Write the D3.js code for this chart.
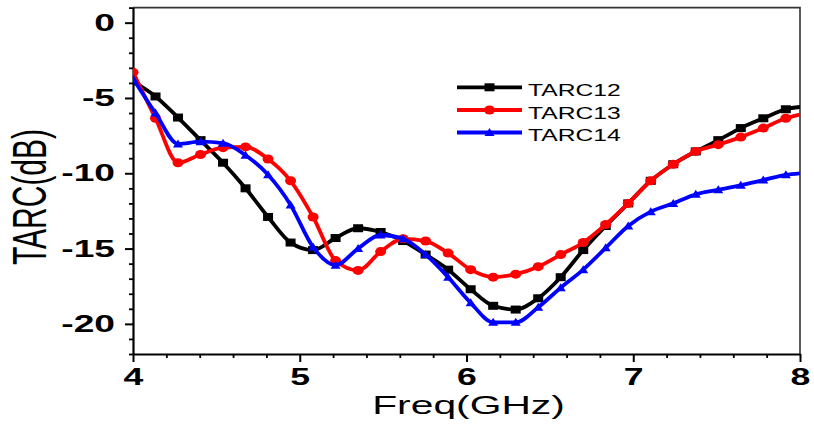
<!DOCTYPE html>
<html>
<head>
<meta charset="utf-8">
<script src="https://cdn.jsdelivr.net/npm/d3@7"></script>
<style>
  html, body { margin: 0; padding: 0; background: #fff; }
  svg { display: block; }
  text { font-family: "Liberation Sans", Arial, sans-serif; fill: #000; }
</style>
</head>
<body>
<svg id="chart" width="814" height="426"></svg>
<script>
// Frequency sample points (GHz)
const freq = [4.000, 4.135, 4.270, 4.405, 4.540, 4.675, 4.810, 4.945, 5.080, 5.215,
              5.350, 5.485, 5.620, 5.755, 5.890, 6.025, 6.160, 6.295, 6.430, 6.565,
              6.700, 6.835, 6.970, 7.105, 7.240, 7.375, 7.510, 7.645, 7.780, 7.915, 8.000];

// TARC (dB) for each port combination
const tarc12 = [-3.9, -4.9, -6.3, -7.8, -9.3, -11.0, -12.9, -14.6, -15.1, -14.3,
                -13.65, -13.9, -14.5, -15.4, -16.4, -17.7, -18.8, -19.05, -18.3, -16.9,
                -15.1, -13.5, -12.0, -10.5, -9.4, -8.55, -7.8, -7.0, -6.35, -5.75, -5.6];
const tarc13 = [-3.3, -6.35, -9.3, -8.75, -8.3, -8.25, -9.05, -10.5, -12.9, -15.8,
                -16.45, -15.2, -14.35, -14.5, -15.3, -16.4, -16.9, -16.7, -16.2, -15.4,
                -14.6, -13.4, -12.0, -10.5, -9.4, -8.55, -8.1, -7.6, -7.0, -6.35, -6.1];
const tarc14 = [-3.7, -6.0, -8.05, -7.9, -8.0, -8.8, -10.1, -12.1, -14.9, -16.1,
                -15.0, -14.1, -14.35, -15.4, -16.9, -18.6, -19.9, -19.9, -18.9, -17.6,
                -16.4, -14.95, -13.5, -12.55, -12.0, -11.4, -11.1, -10.8, -10.45, -10.1, -10.0];

const seriesNames = ["TARC12", "TARC13", "TARC14"];
const seriesColors = ["#000000", "#ff0000", "#0000ff"];
const seriesShapes = ["square", "circle", "triangle"];

const xTicks = [4, 5, 6, 7, 8];
const yTicks = [0, -5, -10, -15, -20];
const xMinorTicks = [4.2, 4.4, 4.6, 4.8, 5.2, 5.4, 5.6, 5.8, 6.2, 6.4, 6.6, 6.8, 7.2, 7.4, 7.6, 7.8];
const yMinorTicks = [1, -1, -2, -3, -4, -6, -7, -8, -9, -11, -12, -13, -14, -16, -17, -18, -19, -21, -22];

const xTitle = "Freq(GHz)";
const yTitle = "TARC(dB)";

// Text is drawn horizontally widened
const SX = 1.55;

const svg = d3.select("#chart");
const plot = { left: 133, right: 800, top: 7.6, bottom: 354 };

const x = d3.scaleLinear().domain([4, 8]).range([plot.left, plot.right]);
const y = d3.scaleLinear().domain([-22, 1]).range([plot.bottom, plot.top]);

// Frame (top and right edges)
svg.append("path")
  .attr("d", `M${plot.left},${plot.top}H${plot.right}V${plot.bottom}`)
  .attr("fill", "none").attr("stroke", "#333").attr("stroke-width", 1.6);

// Minor ticks
svg.append("g").attr("transform", `translate(0,${plot.bottom})`)
  .call(d3.axisBottom(x).tickValues(xMinorTicks).tickSize(4).tickSizeOuter(0).tickFormat(""))
  .call(g => g.select(".domain").remove())
  .call(g => g.selectAll("line").attr("stroke-width", 1.8));
svg.append("g").attr("transform", `translate(${plot.left},0)`)
  .call(d3.axisLeft(y).tickValues(yMinorTicks).tickSize(4).tickSizeOuter(0).tickFormat(""))
  .call(g => g.select(".domain").remove())
  .call(g => g.selectAll("line").attr("stroke-width", 1.8));

// Major axes
const xAxis = svg.append("g").attr("transform", `translate(0,${plot.bottom})`)
  .call(d3.axisBottom(x).tickValues(xTicks).tickSize(8).tickSizeOuter(0).tickPadding(7).tickFormat(d3.format("d")));
const yAxis = svg.append("g").attr("transform", `translate(${plot.left},0)`)
  .call(d3.axisLeft(y).tickValues(yTicks).tickSize(8).tickSizeOuter(0).tickPadding(10).tickFormat(d => d === 0 ? "0" : "-" + Math.abs(d)));

[xAxis, yAxis].forEach(g => {
  g.select(".domain").attr("stroke-width", 2.2);
  g.selectAll(".tick line").attr("stroke-width", 2);
  g.selectAll("text")
    .style("font-family", '"Liberation Sans", Arial, sans-serif')
    .style("font-size", "24px").style("font-weight", "bold").attr("fill", "#000");
});
xAxis.selectAll("text").style("font-size", "23px").attr("transform", `scale(${SX},1)`);
yAxis.selectAll("text").attr("x", -18 / SX).attr("transform", `scale(${SX},1)`);

// Axis titles
svg.append("text")
  .attr("transform", `translate(${(plot.left + plot.right) / 2 + 2},414) scale(1.6,1)`)
  .attr("text-anchor", "middle").style("font-size", "25.5px").text(xTitle);
svg.append("text")
  .attr("transform", `translate(46,197) rotate(-90) scale(1,1.6)`)
  .attr("text-anchor", "middle").style("font-size", "30px").text(yTitle);

// Marker drawing
function drawMarker(sel, shape, color) {
  if (shape === "square") {
    sel.append("rect").attr("x", -5).attr("y", -4).attr("width", 10).attr("height", 8).attr("fill", color);
  } else if (shape === "circle") {
    sel.append("ellipse").attr("rx", 5.5).attr("ry", 4.5).attr("fill", color);
  } else {
    sel.append("path").attr("d", "M0,-4.5L5,3.5L-5,3.5Z").attr("fill", color);
  }
}

svg.append("clipPath").attr("id", "plotClip").append("rect")
  .attr("x", plot.left).attr("y", plot.top)
  .attr("width", plot.right - plot.left).attr("height", plot.bottom - plot.top);

const seriesValues = [tarc12, tarc13, tarc14];
const line = d3.line().x(d => x(d[0])).y(d => y(d[1])).curve(d3.curveMonotoneX);

const layer = svg.append("g").attr("clip-path", "url(#plotClip)");
seriesValues.forEach((vals, i) => {
  const pts = freq.map((f, j) => [f, vals[j]]);
  layer.append("path").datum(pts)
    .attr("d", line).attr("fill", "none")
    .attr("stroke", seriesColors[i]).attr("stroke-width", 3.8)
    .attr("stroke-linejoin", "round");
  // markers on the sampled points (the closing point at 8 GHz has none)
  pts.slice(0, pts.length - 1).forEach(p => {
    const m = layer.append("g").attr("transform", `translate(${x(p[0])},${y(p[1])})`);
    drawMarker(m, seriesShapes[i], seriesColors[i]);
  });
});

// Legend
const legend = svg.append("g");
const rowY = [87.3, 110, 132.5];
seriesNames.forEach((name, i) => {
  const g = legend.append("g").attr("transform", `translate(0,${rowY[i]})`);
  g.append("line").attr("x1", 457).attr("x2", 522).attr("y1", 0).attr("y2", 0)
    .attr("stroke", seriesColors[i]).attr("stroke-width", 3.8);
  const m = g.append("g").attr("transform", "translate(489.5,0)");
  drawMarker(m, seriesShapes[i], seriesColors[i]);
  g.append("text").attr("transform", `translate(528,8.5) scale(1.45,1)`)
    .style("font-size", "17px").text(name);
});
</script>
</body>
</html>
